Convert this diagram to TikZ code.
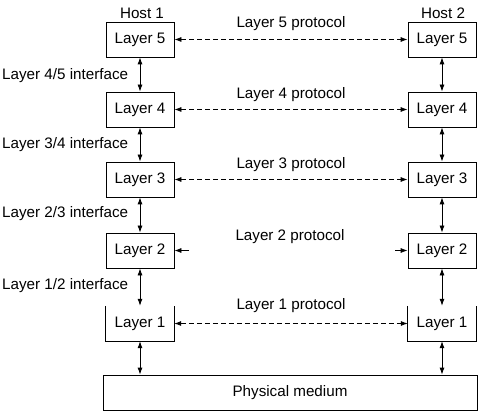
\documentclass[tikz,border=0pt]{standalone}
\usepackage{fontspec}
\setmainfont{Liberation Sans}
\usetikzlibrary{arrows.meta}
\begin{document}
\begin{tikzpicture}[x=1pt,y=-1pt,
  font=\fontsize{15.2}{18}\selectfont,
  layerbox/.style={draw,line width=0.8pt,minimum width=68pt,minimum height=35pt,inner sep=0pt},
  openbox/.style={minimum width=68pt,minimum height=35pt,inner sep=0pt},
  tip/.style={-{Latex[length=7pt,width=5pt]}},
  bitip/.style={{Latex[length=7pt,width=5pt]}-{Latex[length=7pt,width=5pt]}},
  proto/.style={bitip,dash pattern=on 5pt off 3pt,line width=0.8pt},
  iface/.style={bitip,line width=0.8pt},
  lbl/.style={inner sep=0pt}]
\useasboundingbox (0,0) rectangle (478,411);
% left stack
\node[layerbox] (a5) at (140,39.5) {Layer 5};
\node[layerbox] (a4) at (140,109.5) {Layer 4};
\node[layerbox] (a3) at (140,179.5) {Layer 3};
\node[layerbox] (a2) at (140,250.5) {Layer 2};
\node[openbox] (a1) at (140,323.5) {Layer 1};
% right stack
\node[layerbox] (b5) at (442,39.5) {Layer 5};
\node[layerbox] (b4) at (442,109.5) {Layer 4};
\node[layerbox] (b3) at (442,179.5) {Layer 3};
\node[layerbox] (b2) at (442,250.5) {Layer 2};
\node[openbox] (b1) at (442,323.5) {Layer 1};
\draw[line width=0.8pt] (a1.north west) -- (a1.south west) -- (a1.south east) -- (a1.north east);
\draw[line width=0.8pt] (b1.north west) -- (b1.south west) -- (b1.south east) -- (b1.north east);
% physical medium
\node[draw,line width=0.8pt,minimum width=374pt,minimum height=35pt,inner sep=0pt] (pm) at (290,392.5) {Physical medium};
% hosts
\node[lbl] (h1) at (142,13) {Host 1};
\node[lbl] (h2) at (443,13) {Host 2};
% vertical interfaces
\foreach \u/\l in {a5/a4,a4/a3,a3/a2,a2/a1,b5/b4,b4/b3,b3/b2,b2/b1}{
  \draw[iface] (\u.south) -- (\l.north);
}
\coordinate (pa) at (a1.south |- pm.north);
\coordinate (pb) at (b1.south |- pm.north);
\draw[iface] (a1.south) -- (pa);
\draw[iface] (b1.south) -- (pb);
% protocols
\draw[proto] (a5.east) -- (b5.west);
\draw[proto] (a4.east) -- (b4.west);
\draw[proto] (a3.east) -- (b3.west);
\draw[proto] (a1.east) -- (b1.west);
\coordinate (s2a) at (189,250.5);
\coordinate (s2b) at (395,250.5);
\draw[tip,line width=0.8pt] (s2a) -- (a2.east);
\draw[tip,line width=0.8pt] (s2b) -- (b2.west);
\node[lbl] (p5) at (291,24) {Layer 5 protocol};
\node[lbl] (p4) at (291,95) {Layer 4 protocol};
\node[lbl] (p3) at (291,165) {Layer 3 protocol};
\node[lbl] (p2) at (290,237) {Layer 2 protocol};
\node[lbl] (p1) at (291,306) {Layer 1 protocol};
% interface labels
\node[lbl,anchor=west] (i45) at (2,76) {Layer 4/5 interface};
\node[lbl,anchor=west] (i34) at (2,145) {Layer 3/4 interface};
\node[lbl,anchor=west] (i23) at (2,214) {Layer 2/3 interface};
\node[lbl,anchor=west] (i12) at (2,286) {Layer 1/2 interface};
\end{tikzpicture}
\end{document}
